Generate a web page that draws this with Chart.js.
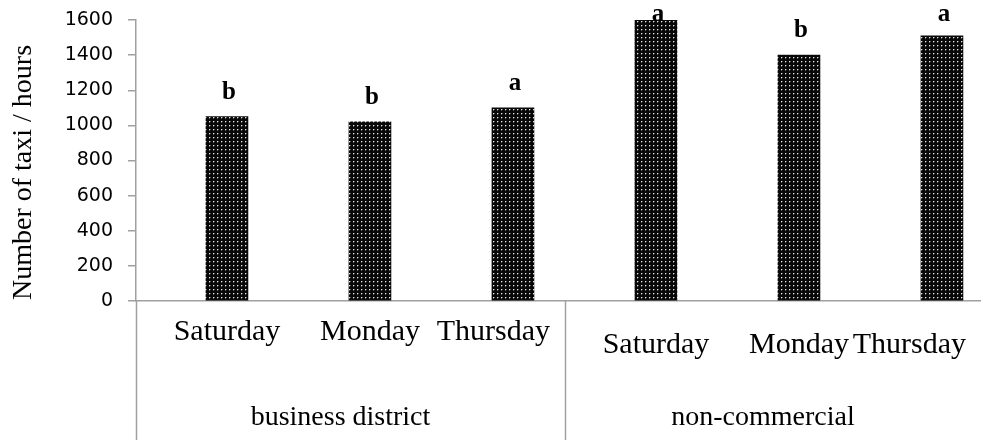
<!DOCTYPE html>
<html>
<head>
<meta charset="utf-8">
<script src="https://cdn.jsdelivr.net/npm/chart.js@4/dist/chart.umd.min.js"></script>
<style>
  html, body { margin: 0; padding: 0; background: #ffffff; overflow: hidden; }
  #c { display: block; }
</style>
</head>
<body>
<canvas id="c" width="981" height="440"></canvas>
<script>
// ---- data ----
const days = ['Saturday', 'Monday', 'Thursday', 'Saturday', 'Monday', 'Thursday'];
const groups = ['business district', 'non-commercial'];
const daysPerGroup = 3;
const taxiPerHour = [1050, 1020, 1100, 1600, 1400, 1510];
const significance = ['b', 'b', 'a', 'a', 'b', 'a'];
const yMin = 0;
const yMax = 1600;
const yStep = 200;
const yTitle = 'Number of taxi / hours';

// ---- style / layout ----
const axisColor = '#a0a0a0';
const barShift = 0.136;          // bars sit right of their category centre (Excel offset)
const serif = '"Liberation Serif", "Times New Roman", serif';

function dotPattern() {
  const c = document.createElement('canvas');
  c.width = 4; c.height = 4;
  const g = c.getContext('2d');
  g.fillStyle = '#080808';
  g.fillRect(0, 0, 4, 4);
  g.fillStyle = '#5a5a5a';
  g.fillRect(2, 1, 1, 1);
  g.fillRect(1, 2, 1, 1);
  g.fillStyle = '#e8e8e8';
  g.fillRect(1, 1, 1, 1);
  return g.createPattern(c, 'repeat');
}

const catLabels = {
  id: 'catLabels',
  afterDraw(chart) {
    const ctx = chart.ctx;
    const xs = chart.scales.x;
    const area = chart.chartArea;
    const H = chart.height;
    ctx.save();
    // extended vertical separators below the axis
    ctx.strokeStyle = axisColor;
    ctx.lineWidth = 1.5;
    const nGroups = groups.length;
    const bounds = [];
    for (let g = 0; g <= nGroups; g++) {
      bounds.push(xs.getPixelForValue(g * daysPerGroup - 0.5 - barShift));
    }
    for (let g = 0; g < nGroups; g++) {
      const bx = Math.max(bounds[g], area.left);
      ctx.beginPath();
      ctx.moveTo(Math.round(bx) + 0.5, area.bottom);
      ctx.lineTo(Math.round(bx) + 0.5, H);
      ctx.stroke();
    }
    // y axis title
    ctx.fillStyle = '#000';
    ctx.save();
    ctx.font = '28px ' + serif;
    ctx.textAlign = 'center';
    ctx.textBaseline = 'middle';
    ctx.translate(24, (area.top + area.bottom) / 2 + 12);
    ctx.rotate(-Math.PI / 2);
    ctx.fillText(yTitle, 0, 0);
    ctx.restore();
    // day labels
    ctx.textAlign = 'left';
    ctx.textBaseline = 'alphabetic';
    ctx.font = '30px ' + serif;
    const dayBase = [39, 52];
    days.forEach((d, i) => {
      const g = Math.floor(i / daysPerGroup);
      const cx = xs.getPixelForValue(i);
      const w = ctx.measureText(d).width;
      let left = cx - w / 2;
      const limit = Math.min(bounds[g + 1], area.right) - 15;
      if (left + w > limit) left = limit - w;
      ctx.fillText(d, left, area.bottom + dayBase[g]);
    });
    // group labels
    ctx.font = '28px ' + serif;
    ctx.textAlign = 'center';
    groups.forEach((t, g) => {
      const a = Math.max(bounds[g], area.left);
      const b = Math.min(bounds[g + 1], area.right);
      ctx.fillText(t, (a + b) / 2 - 10, area.bottom + 124);
    });
    // significance letters
    ctx.font = 'bold 25px ' + serif;
    const ys = chart.scales.y;
    significance.forEach((s, i) => {
      const cx = xs.getPixelForValue(i);
      const top = ys.getPixelForValue(taxiPerHour[i]);
      const base = Math.max(top - 18, area.top + 1);
      ctx.fillText(s, cx + 2, base);
    });
    ctx.restore();
  }
};

const chart = new Chart(document.getElementById('c'), {
  type: 'bar',
  data: {
    datasets: [{
      data: taxiPerHour.map((v, i) => ({ x: i, y: v })),
      backgroundColor: dotPattern(),
      borderWidth: 0,
      barThickness: 42
    }]
  },
  options: {
    responsive: false,
    animation: false,
    devicePixelRatio: 1,
    layout: { padding: { top: 20, left: 0, right: 0, bottom: 0 } },
    plugins: { legend: { display: false }, tooltip: { enabled: false } },
    scales: {
      x: {
        type: 'linear',
        min: -0.5 - barShift,
        max: -0.5 - barShift + 845 / 143,
        offset: false,
        ticks: { display: false },
        grid: { display: false, offset: false },
        border: { display: true, color: axisColor, width: 1.5 },
        afterFit(s) { s.height = 139; s.paddingLeft = 0; s.paddingRight = 0; }
      },
      y: {
        min: yMin,
        max: yMax,
        ticks: {
          stepSize: yStep,
          color: '#000',
          padding: 15,
          font: { family: '"DejaVu Sans", Verdana, sans-serif', size: 19 },
          callback: (v) => String(v)
        },
        grid: { drawOnChartArea: false, drawTicks: true, tickLength: 8, tickColor: axisColor, color: axisColor, lineWidth: 1.5 },
        border: { display: true, color: axisColor, width: 1.5 },
        title: { display: false },
        afterFit(s) { s.width = 136; s.paddingTop = 0; s.paddingBottom = 0; }
      }
    }
  },
  plugins: [catLabels]
});
</script>
</body>
</html>
